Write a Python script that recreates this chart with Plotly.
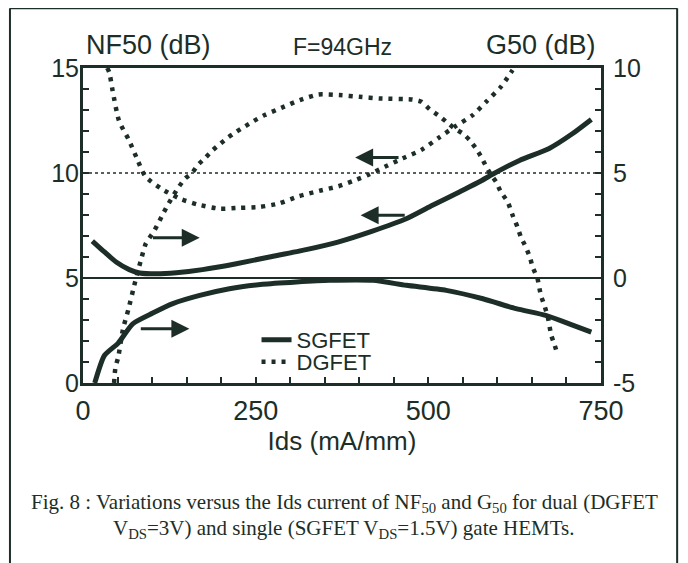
import plotly.graph_objects as go

INK = "#1c2e27"

# ---- data ----
ids_sg_nf = [13.5, 31, 48, 67, 82, 106, 135, 173, 222, 270, 323, 369, 418, 468, 506, 545, 574, 593, 632, 675, 709, 736]
nf_sg = [6.76, 6.24, 5.76, 5.4, 5.24, 5.2, 5.25, 5.4, 5.68, 6.0, 6.35, 6.71, 7.22, 7.82, 8.46, 9.1, 9.58, 9.94, 10.6, 11.17, 11.88, 12.55]

ids_sg_g = [17, 31, 51, 72, 101, 130, 169, 212, 260, 309, 357, 420, 468, 526, 579, 627, 670, 704, 736]
g_sg = [-5.0, -3.69, -3.1, -2.18, -1.67, -1.22, -0.83, -0.51, -0.3, -0.19, -0.11, -0.11, -0.35, -0.59, -0.99, -1.46, -1.78, -2.18, -2.58]

ids_dg_nf = [35, 38, 43, 52, 66, 78, 90, 113, 140, 166, 198, 226, 255, 284, 313, 342, 370, 391, 412, 437, 463, 490, 516, 538, 564, 584, 605, 622]
nf_dg = [15.0, 14.8, 13.9, 12.5, 11.6, 10.7, 9.85, 9.26, 8.78, 8.5, 8.3, 8.34, 8.38, 8.55, 8.9, 9.15, 9.37, 9.62, 9.9, 10.3, 10.7, 11.1, 11.7, 12.2, 12.75, 13.4, 14.1, 14.9]

ids_dg_g = [45, 47, 51, 58, 66, 73, 78, 84, 91, 102, 110, 116, 124, 137, 148, 158, 166, 177, 188, 199, 210, 222, 235, 247, 263, 287, 314, 341, 371, 400, 429, 477, 490, 502, 514, 526, 538, 550, 560, 569, 577, 584, 591, 598, 605, 615, 622, 629, 634, 641, 647, 651, 658, 663, 668, 673, 678, 683, 686]
g_dg = [-5.0, -4.25, -3.77, -2.42, -1.46, -0.51, 0.13, 0.87, 1.64, 2.19, 2.67, 3.07, 3.55, 4.26, 4.74, 5.0, 5.37, 5.72, 6.09, 6.4, 6.69, 6.96, 7.23, 7.47, 7.76, 8.1, 8.47, 8.74, 8.71, 8.63, 8.55, 8.5, 8.39, 8.03, 7.76, 7.44, 7.12, 6.88, 6.56, 6.17, 5.74, 5.29, 4.9, 4.58, 4.1, 3.62, 2.99, 2.43, 1.95, 1.48, 1.0, 0.52, -0.03, -0.83, -1.3, -1.86, -2.73, -3.21, -3.53]

x_ticks = [0, 250, 500, 750]
nf_ticks = [0, 5, 10, 15]
g_ticks = [-5, 0, 5, 10]
g_tick_text = ["-5", "0", "5", "10"]

# arrows: (tail_x, tip_x, y on NF axis)
arrow_tail_x = [459, 468, 99, 81.5]
arrow_tip_x = [394, 402, 169, 154]
arrow_y = [10.74, 7.99, 6.92, 2.58]

fig = go.Figure()

fig.add_trace(go.Scatter(x=ids_sg_nf, y=nf_sg, mode="lines", name="SGFET",
                         line=dict(color=INK, width=5, shape="spline", smoothing=0.6),
                         legend="legend", showlegend=True))
fig.add_trace(go.Scatter(x=ids_sg_g, y=g_sg, mode="lines", name="SGFET", yaxis="y2",
                         line=dict(color=INK, width=5, shape="spline", smoothing=0.6),
                         showlegend=False))
fig.add_trace(go.Scatter(x=ids_dg_nf, y=nf_dg, mode="lines", name="DGFET",
                         line=dict(color=INK, width=4.5, dash="4px,6px", shape="spline", smoothing=0.6),
                         legend="legend2", showlegend=True))
fig.add_trace(go.Scatter(x=ids_dg_g, y=g_dg, mode="lines", name="DGFET", yaxis="y2",
                         line=dict(color=INK, width=4.5, dash="4px,6px", shape="spline", smoothing=0.6),
                         showlegend=False))

# reference lines
fig.add_shape(type="line", xref="paper", x0=0, x1=1, yref="y", y0=5, y1=5,
              line=dict(color=INK, width=2.2), layer="below")
fig.add_shape(type="line", xref="paper", x0=0, x1=1, yref="y", y0=10, y1=10,
              line=dict(color=INK, width=1.6, dash="dot"), layer="below")

# outer frame of the scanned figure
fig.add_shape(type="line", xref="paper", yref="paper", x0=-0.141, x1=-0.141, y0=1.19, y1=-0.62,
              line=dict(color=INK, width=2))
fig.add_shape(type="line", xref="paper", yref="paper", x0=1.147, x1=1.147, y0=1.19, y1=-0.62,
              line=dict(color=INK, width=2))
fig.add_shape(type="line", xref="paper", yref="paper", x0=-0.141, x1=1.147, y0=1.19, y1=1.19,
              line=dict(color=INK, width=2))

for tx, hx, yy in zip(arrow_tail_x, arrow_tip_x, arrow_y):
    fig.add_annotation(x=hx, y=yy, ax=tx, ay=yy, xref="x", yref="y", axref="x", ayref="y",
                       text="", showarrow=True, arrowhead=2, arrowsize=1.2, arrowwidth=3,
                       arrowcolor=INK, standoff=0, startstandoff=0)

FONT = "Arial"
fig.add_annotation(text="NF50 (dB)", xref="paper", yref="paper", x=0.002, y=1.073,
                   xanchor="left", yanchor="middle", showarrow=False,
                   font=dict(family=FONT, size=27, color=INK))
fig.add_annotation(text="F=94GHz", xref="paper", yref="paper", x=0.5, y=1.067,
                   xanchor="center", yanchor="middle", showarrow=False,
                   font=dict(family=FONT, size=23, color=INK))
fig.add_annotation(text="G50 (dB)", xref="paper", yref="paper", x=0.994, y=1.073,
                   xanchor="right", yanchor="middle", showarrow=False,
                   font=dict(family=FONT, size=27, color=INK))

cap1 = "Fig. 8 : Variations versus the Ids current of NF<sub>50</sub> and G<sub>50</sub> for dual (DGFET"
cap2 = "V<sub>DS</sub>=3V) and single (SGFET V<sub>DS</sub>=1.5V) gate HEMTs."
fig.add_annotation(text=cap1, xref="paper", yref="paper", x=0.504, y=-0.381,
                   xanchor="center", yanchor="middle", showarrow=False,
                   font=dict(family="Times New Roman", size=21, color=INK))
fig.add_annotation(text=cap2, xref="paper", yref="paper", x=0.504, y=-0.463,
                   xanchor="center", yanchor="middle", showarrow=False,
                   font=dict(family="Times New Roman", size=21, color=INK))

axis_common = dict(showline=True, linewidth=3, linecolor=INK, showgrid=False, zeroline=False,
                   ticks="inside", ticklen=6, tickwidth=1.5, tickcolor=INK)

fig.update_layout(
    width=680, height=555,
    margin=dict(l=75, r=87, t=60, b=180),
    paper_bgcolor="white", plot_bgcolor="white",
    font=dict(family=FONT, color=INK),
    xaxis=dict(range=[0, 750], tickvals=x_ticks, mirror=True, ticklabelstandoff=2,
               tickfont=dict(family=FONT, size=27, color=INK),
               minor=dict(dtick=50, tick0=0, ticks="inside", ticklen=6, tickwidth=1.5, tickcolor=INK),
               title=dict(text="Ids (mA/mm)", font=dict(family=FONT, size=26, color=INK), standoff=4),
               **axis_common),
    yaxis=dict(range=[0, 15], tickvals=nf_ticks, ticklabelstandoff=-4,
               tickfont=dict(family=FONT, size=25, color=INK),
               minor=dict(dtick=1, tick0=0, ticks="inside", ticklen=6, tickwidth=1.5, tickcolor=INK),
               **axis_common),
    yaxis2=dict(range=[-5, 10], tickvals=g_ticks, ticktext=g_tick_text, overlaying="y", side="right",
                ticklabelstandoff=4, tickfont=dict(family=FONT, size=25, color=INK),
                minor=dict(dtick=1, tick0=-5, ticks="inside", ticklen=6, tickwidth=1.5, tickcolor=INK),
                **axis_common),
    showlegend=True,
    legend=dict(x=0.335, y=0.1365, xanchor="left", yanchor="middle", bgcolor="rgba(0,0,0,0)",
                font=dict(family=FONT, size=22, color=INK), itemwidth=30),
    legend2=dict(x=0.335, y=0.0667, xanchor="left", yanchor="middle", bgcolor="rgba(0,0,0,0)",
                 font=dict(family=FONT, size=22, color=INK), itemwidth=30),
)

fig.write_html("out.html")
